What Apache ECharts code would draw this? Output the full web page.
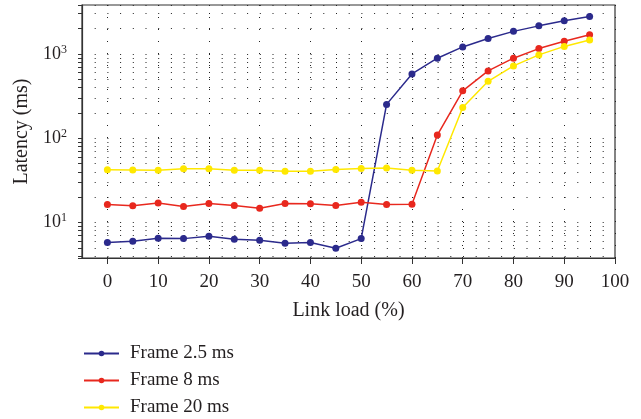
<!DOCTYPE html>
<html>
<head>
<meta charset="utf-8">
<script src="https://cdn.jsdelivr.net/npm/echarts@6/dist/echarts.min.js"></script>
<style>html,body{margin:0;padding:0;background:#fff}#c{width:641px;height:419px}</style>
</head>
<body>
<div id="c"></div>
<script>
var xLoads = [0,5,10,15,20,25,30,35,40,45,50,55,60,65,70,75,80,85,90,95];
var frame25 = [5.8,6.0,6.5,6.45,6.9,6.35,6.15,5.7,5.8,4.95,6.45,252,578,889,1210,1520,1850,2150,2470,2780];
var frame8 = [16.4,15.8,17.1,15.5,16.8,15.9,14.8,16.8,16.7,15.9,17.4,16.4,16.5,109,365,628,889,1156,1415,1683];
var frame20 = [42.4,42.0,41.6,43.6,43.6,41.6,41.6,40.5,40.5,42.7,43.9,44.4,41.6,40.8,232,473,720,973,1227,1462];
var seriesNames = ['Frame 2.5 ms','Frame 8 ms','Frame 20 ms'];
var seriesColors = ['#2b2a8c','#e8281e','#ffe800'];
var xAxisName = 'Link load (%)';
var yAxisName = 'Latency (ms)';

var FONT = '"Liberation Serif", "DejaVu Serif", serif';
function pairs(arr){ return xLoads.map(function(x,i){ return [x, arr[i]]; }); }
var allData = [frame25, frame8, frame20];

var chart = echarts.init(document.getElementById('c'), null, {renderer:'canvas'});
chart.setOption({
  backgroundColor:'#fff',
  animation:false,
  textStyle:{fontFamily:FONT},
  grid:{left:82,right:26,top:5,bottom:161,show:true,borderColor:'#333',borderWidth:1.2,backgroundColor:'transparent'},
  legend:{
    orient:'vertical', left:83, top:344, padding:0, itemWidth:35, itemHeight:7, itemGap:8,
    textStyle:{fontFamily:FONT,fontSize:19,color:'#231f20',padding:[0,0,0,6]},
    data:seriesNames
  },
  xAxis:{
    type:'value', min:-5, max:100, splitNumber:10,
    name:xAxisName, nameLocation:'middle', nameGap:43,
    nameTextStyle:{fontFamily:FONT,fontSize:20,color:'#231f20'},
    axisLine:{show:true,onZero:false,lineStyle:{color:'#333',width:1.2}},
    axisTick:{show:true,length:6,lineStyle:{color:'#333'}},
    axisLabel:{showMinLabel:false,fontFamily:FONT,fontSize:19,color:'#231f20',margin:15},
    splitLine:{show:true,lineStyle:{color:'#222',width:1,type:[1,11]}}
  },
  yAxis:{
    type:'log', logBase:10, min:3.8, max:3800,
    name:yAxisName, nameLocation:'middle', nameGap:48,
    nameTextStyle:{fontFamily:FONT,fontSize:20,color:'#231f20'},
    axisLine:{show:true,onZero:false,lineStyle:{color:'#333',width:1.2}},
    axisTick:{show:true,length:4,lineStyle:{color:'#333'}},
    minorTick:{show:true,splitNumber:9,length:4,lineStyle:{color:'#333'}},
    axisLabel:{showMinLabel:false,showMaxLabel:false,margin:15,
      formatter:function(v){
        var e = Math.round(Math.log10(v));
        if (Math.abs(Math.pow(10,e)-v) > 1e-6*v) return '';
        return '10{s|' + e + '}';
      },
      fontFamily:FONT,fontSize:18,color:'#231f20',
      rich:{s:{fontFamily:FONT,fontSize:12,color:'#231f20',verticalAlign:'top',padding:[0,0,9,0]}}
    },
    splitLine:{show:true,lineStyle:{color:'#222',width:1,type:[1,11.7]}},
    minorSplitLine:{show:true,lineStyle:{color:'#222',width:1,type:[1,11.7]}}
  },
  series: seriesNames.map(function(n,i){
    return {
      name:n, type:'line', data:pairs(allData[i]),
      symbol:'circle', symbolSize:7, showSymbol:true,
      itemStyle:{color:seriesColors[i]},
      lineStyle:{color:seriesColors[i],width:1.5}
    };
  })
});
</script>
</body>
</html>
